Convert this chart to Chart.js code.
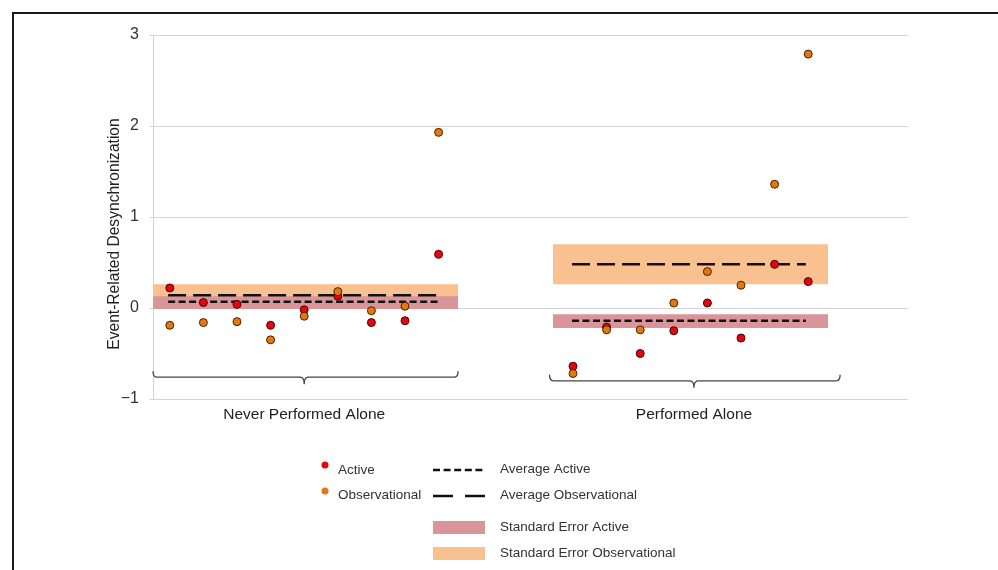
<!DOCTYPE html>
<html>
<head>
<meta charset="utf-8">
<script src="https://cdn.jsdelivr.net/npm/chart.js@4.4.0/dist/chart.umd.min.js"></script>
<style>
  body { margin: 0; background: #fff; }
  #wrap { position: relative; width: 998px; height: 570px; overflow: hidden; }
  #frame { position: absolute; left: 12px; top: 12px; width: 1100px; height: 1000px; border: 2px solid #1a1a1a; }
  #chart { position: absolute; left: 0; top: 0; }
</style>
</head>
<body>
<div id="wrap">
  <div id="frame"></div>
  <canvas id="chart" width="998" height="570"></canvas>
</div>
<script>
// groups on the x axis
const groupLabels = ["Never Performed Alone", "Performed Alone"];
const groupCenters = [4.5, 16.1];

// participant slots on the x scale
const neverX = [0.5, 1.5, 2.5, 3.5, 4.5, 5.5, 6.5, 7.5, 8.5];
const aloneX = [12.5, 13.5, 14.5, 15.5, 16.5, 17.5, 18.5, 19.5];

// ERD per participant
const neverActive = [0.22, 0.06, 0.04, -0.19, -0.02, 0.13, -0.16, -0.14, 0.59];
const neverObs = [-0.19, -0.16, -0.15, -0.35, -0.09, 0.18, -0.03, 0.02, 1.93];
const aloneActive = [-0.64, -0.21, -0.50, -0.25, 0.055, -0.33, 0.48, 0.29];
const aloneObs = [-0.72, -0.24, -0.24, 0.055, 0.40, 0.25, 1.36, 2.79];

// group means and standard error ranges [low, high]
const avgActive = [0.07, -0.14];
const avgObs = [0.14, 0.48];
const seActive = [[-0.01, 0.13], [-0.22, -0.07]];
const seObs = [[0.0, 0.26], [0.26, 0.70]];

// where the bands / mean lines / braces span on the x scale
const bandSpan = [[0, 9.08], [11.9, 20.09]];
const lineSpan = [[0.45, 8.54], [12.47, 19.43]];
const braces = [
  { x0: 0, x1: 9.08, mid: 4.5, y: -0.76 },
  { x0: 11.8, x1: 20.45, mid: 16.1, y: -0.80 },
];

const RED = "#e30613";
const ORANGE = "#e2780f";
const RED_BAND = "#d9959a";
const ORANGE_BAND = "#f9c18f";
const FONT = "'Liberation Sans', Arial, sans-serif";

Chart.defaults.font.family = FONT;

const toPoints = (xs, ys) => xs.map((x, i) => ({ x: x, y: ys[i] }));

const datasets = [
  {
    label: "Observational",
    data: toPoints(neverX, neverObs).concat(toPoints(aloneX, aloneObs)),
    backgroundColor: ORANGE,
    borderColor: "#4a2000",
    borderWidth: 1,
    pointRadius: 4,
    order: 0,
  },
  {
    label: "Active",
    data: toPoints(neverX, neverActive).concat(toPoints(aloneX, aloneActive)),
    backgroundColor: RED,
    borderColor: "#4a0000",
    borderWidth: 1,
    pointRadius: 4,
    order: 1,
  },
];

groupCenters.forEach((c, g) => {
  // mean lines
  datasets.push({
    type: "line",
    label: "Average Active " + g,
    data: lineSpan[g].map((x) => ({ x: x, y: avgActive[g] })),
    borderColor: "#111",
    borderWidth: 2.5,
    borderDash: [7, 3.5],
    pointRadius: 0,
    fill: false,
    order: 2,
  });
  datasets.push({
    type: "line",
    label: "Average Observational " + g,
    data: lineSpan[g].map((x) => ({ x: x, y: avgObs[g] })),
    borderColor: "#111",
    borderWidth: 2.5,
    borderDash: [18, 7],
    pointRadius: 0,
    fill: false,
    order: 2,
  });
  // SE bands
  datasets.push({
    type: "line",
    label: "SE Active " + g,
    data: bandSpan[g].map((x) => ({ x: x, y: seActive[g][1] })),
    borderWidth: 0,
    borderColor: "rgba(0,0,0,0)",
    backgroundColor: RED_BAND,
    pointRadius: 0,
    fill: { value: seActive[g][0] },
    order: 3,
  });
  datasets.push({
    type: "line",
    label: "SE Observational " + g,
    data: bandSpan[g].map((x) => ({ x: x, y: seObs[g][1] })),
    borderWidth: 0,
    borderColor: "rgba(0,0,0,0)",
    backgroundColor: ORANGE_BAND,
    pointRadius: 0,
    fill: { value: seObs[g][0] },
    order: 4,
  });
});

// curly braces under each group + the y axis title
const bracePlugin = {
  id: "braces",
  afterDatasetsDraw(chart) {
    const { ctx, scales } = chart;
    ctx.save();
    ctx.strokeStyle = "#444";
    ctx.lineWidth = 1.3;
    braces.forEach((b) => {
      const x0 = scales.x.getPixelForValue(b.x0);
      const x1 = scales.x.getPixelForValue(b.x1);
      const m = scales.x.getPixelForValue(b.mid);
      const y = scales.y.getPixelForValue(b.y);
      ctx.beginPath();
      ctx.moveTo(x0, y - 6);
      ctx.quadraticCurveTo(x0, y, x0 + 4, y);
      ctx.lineTo(m - 4, y);
      ctx.quadraticCurveTo(m, y, m, y + 7);
      ctx.quadraticCurveTo(m, y, m + 4, y);
      ctx.lineTo(x1 - 4, y);
      ctx.quadraticCurveTo(x1, y, x1, y - 6);
      ctx.stroke();
    });

    // axis title, sitting a bit lower than the scale centre like the original
    ctx.translate(115, 234);
    ctx.rotate(-Math.PI / 2);
    ctx.font = "15.6px " + FONT;
    ctx.fillStyle = "#222";
    ctx.textAlign = "center";
    ctx.textBaseline = "middle";
    ctx.fillText("Event-Related Desynchronization", 0, 0);
    ctx.restore();
  },
};

// legend block under the plot
const legendPlugin = {
  id: "customLegend",
  afterDraw(chart) {
    const ctx = chart.ctx;
    ctx.save();
    ctx.font = "13.5px " + FONT;
    ctx.textBaseline = "middle";
    ctx.textAlign = "left";

    ctx.fillStyle = RED;
    ctx.beginPath(); ctx.arc(325, 465, 3.5, 0, Math.PI * 2); ctx.fill();
    ctx.fillStyle = ORANGE;
    ctx.beginPath(); ctx.arc(325, 491, 3.5, 0, Math.PI * 2); ctx.fill();

    ctx.fillStyle = "#333";
    ctx.fillText("Active", 338, 470);
    ctx.fillText("Observational", 338, 495);
    ctx.fillText("Average Active", 500, 469);
    ctx.fillText("Average Observational", 500, 495);
    ctx.fillText("Standard Error Active", 500, 527);
    ctx.fillText("Standard Error Observational", 500, 553);

    ctx.strokeStyle = "#111";
    ctx.lineWidth = 2.5;
    ctx.setLineDash([7, 3.6]);
    ctx.beginPath(); ctx.moveTo(433, 470); ctx.lineTo(485, 470); ctx.stroke();
    ctx.setLineDash([20, 12]);
    ctx.beginPath(); ctx.moveTo(433, 496); ctx.lineTo(485, 496); ctx.stroke();
    ctx.setLineDash([]);

    ctx.fillStyle = RED_BAND;
    ctx.fillRect(433, 521, 52, 13);
    ctx.fillStyle = ORANGE_BAND;
    ctx.fillRect(433, 547, 52, 13);
    ctx.restore();
  },
};

const ctx = document.getElementById("chart");
const myChart = new Chart(ctx, {
  type: "scatter",
  data: { datasets: datasets },
  options: {
    responsive: false,
    animation: false,
    events: [],
    layout: { padding: { left: 0, right: 90, top: 35, bottom: 0 } },
    plugins: {
      legend: { display: false },
      tooltip: { enabled: false },
    },
    scales: {
      x: {
        type: "linear",
        min: 0,
        max: 22.47,
        grid: { display: false, drawTicks: false },
        border: { display: false },
        afterBuildTicks: (scale) => {
          scale.ticks = groupCenters.map((v) => ({ value: v }));
        },
        ticks: {
          autoSkip: false,
          maxRotation: 0,
          padding: 6,
          color: "#222",
          font: { size: 15.5 },
          callback: (v, i) => groupLabels[i],
        },
        afterFit: (scale) => {
          scale.height = 171;
        },
      },
      y: {
        min: -1,
        max: 3,
        ticks: {
          stepSize: 1,
          padding: 11,
          color: "#333",
          font: { size: 16 },
          callback: (v) => (v < 0 ? "\u2212" + Math.abs(v) : String(v)),
        },
        grid: { color: "#d4d4d4", lineWidth: 1, tickLength: 3, tickColor: "#d4d4d4" },
        border: { color: "#d4d4d4" },
        afterFit: (scale) => {
          scale.width = 153;
        },
      },
    },
  },
  plugins: [bracePlugin, legendPlugin],
});
</script>
</body>
</html>
